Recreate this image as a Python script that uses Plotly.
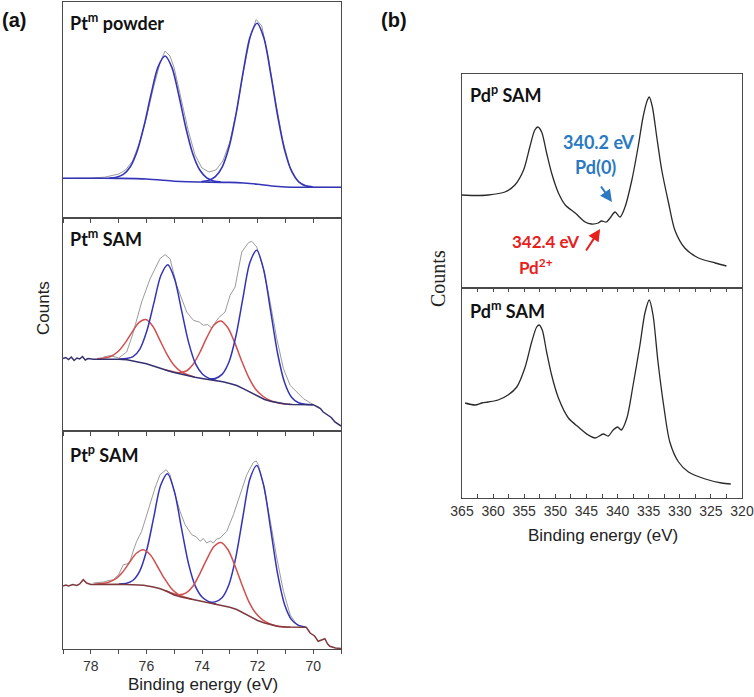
import plotly.graph_objects as go

# ---------------- Panel (a): Pt 4f ----------------
# (a1) Pt^m powder
A1_RAW_E = [79.0, 78.5, 78.0, 77.5, 77.0, 76.75, 76.5, 76.25, 76.0, 75.75, 75.5, 75.33, 75.15, 75.0, 74.75,
            74.5, 74.25, 74.0, 73.75, 73.5, 73.25, 73.0, 72.75, 72.5, 72.25, 72.05, 71.85, 71.6, 71.35,
            71.1, 70.85, 70.6, 70.35, 70.0, 69.5, 69.0]
A1_RAW = [39.7, 39.8, 40.0, 40.8, 44.0, 48.0, 57.0, 75.0, 100.0, 130.0, 156.0, 167.0, 162.0, 150.0, 120.0,
          88.0, 63.0, 50.0, 46.0, 48.0, 57.0, 76.0, 108.0, 148.0, 183.0, 198.5, 192.0, 158.0, 116.0,
          78.0, 52.0, 38.0, 32.5, 31.0, 30.7, 30.7]
A1_BG_E = [79.0, 78.0, 77.0, 76.0, 75.0, 74.5, 74.0, 73.0, 72.5, 72.0, 71.5, 71.0, 70.5, 70.0, 69.0]
A1_BG = [39.7, 39.7, 39.6, 39.0, 36.8, 36.2, 36.0, 35.6, 35.0, 33.8, 32.0, 31.0, 30.7, 30.7, 30.7]
A1_B1_E = [77.33, 77.08, 76.83, 76.58, 76.33, 76.08, 75.83, 75.58, 75.33, 75.08, 74.83, 74.58, 74.33,
           74.08, 73.83, 73.58, 73.33]
A1_B1 = [39.9, 40.8, 43.7, 51.3, 67.1, 92.7, 124.0, 151.1, 162.0, 150.4, 122.2, 90.0, 64.0, 48.0, 40.2,
         37.1, 36.1]
A1_B2_E = [74.02, 73.77, 73.52, 73.27, 73.02, 72.77, 72.52, 72.27, 72.02, 71.77, 71.52, 71.27, 71.02,
           70.77, 70.52, 70.27, 70.02]
A1_B2 = [36.4, 37.5, 41.3, 51.2, 71.7, 104.7, 145.8, 181.1, 194.8, 179.7, 142.8, 100.9, 67.1, 46.3, 36.2,
         32.3, 31.1]

# (a2) Pt^m SAM
A2_RAW_E = [77.55, 77.3, 77.0, 76.71, 76.5, 76.35, 76.17, 75.87, 75.51, 75.33, 75.15, 74.91, 74.73, 74.55,
            74.31, 74.1, 73.95, 73.8, 73.65, 73.41, 73.17, 72.99, 72.81, 72.57, 72.33, 72.21, 72.03, 71.79,
            71.55, 71.31, 71.07, 70.83, 70.59, 70.35, 69.99]
A2_RAW = [74.0, 75.5, 73.0, 79.0, 96.0, 112.0, 129.0, 152.0, 172.3, 176.3, 172.3, 145.7, 132.3, 119.0,
          110.7, 109.0, 105.7, 106.5, 103.0, 113.0, 119.0, 135.7, 144.0, 179.0, 188.3, 189.7, 184.0, 162.3,
          129.0, 92.3, 62.3, 45.7, 39.0, 32.3, 26.3]
A2_BG_E = [79.0, 78.9, 78.8, 78.7, 78.6, 78.5, 78.4, 78.3, 78.2, 78.1, 77.9, 77.5, 77.0, 76.7, 76.5, 76.25,
           76.0, 75.75, 75.5, 75.25, 75.0, 74.75, 74.5, 74.25, 74.0, 73.75, 73.5, 73.25, 73.0, 72.75, 72.5,
           72.25, 72.0, 71.75, 71.5, 71.25, 71.0, 70.75, 70.5, 70.0, 69.84, 69.74, 69.64, 69.45, 69.35,
           69.22, 69.0]
A2_BG = [72.5, 73.5, 71.5, 74.0, 70.5, 73.0, 72.0, 74.5, 71.0, 72.5, 71.8, 72.0, 71.8, 71.3, 70.2, 68.8,
         67.3, 65.0, 62.5, 60.5, 58.5, 56.7, 55.2, 53.7, 52.6, 51.5, 50.5, 49.3, 47.5, 45.5, 42.2,
         38.5, 34.5, 31.5, 29.5, 28.0, 27.0, 26.5, 26.3, 26.3, 24.0, 22.5, 19.0, 15.0, 13.5, 9.0, 5.0]
A2_R1_E = [77.77, 77.52, 77.27, 77.02, 76.77, 76.52, 76.27, 76.02, 75.77, 75.52, 75.27, 75.02, 74.77,
           74.52, 74.27]
A2_R1 = [72.3, 72.9, 74.8, 79.5, 87.9, 98.7, 108.4, 111.4, 104.7, 91.1, 77.2, 66.3, 59.7, 56.2, 54.0]
A2_B1_E = [76.98, 76.73, 76.48, 76.23, 75.98, 75.73, 75.48, 75.23, 74.98, 74.73, 74.48, 74.23, 73.98,
           73.73, 73.48]
A2_B1 = [72.0, 72.4, 74.3, 82.2, 100.4, 128.1, 155.5, 166.3, 151.6, 119.9, 88.4, 67.1, 56.7, 52.4, 50.6]
A2_R2_E = [75.32, 75.07, 74.82, 74.57, 74.32, 74.07, 73.82, 73.57, 73.32, 73.07, 72.82, 72.57, 72.32,
           72.07, 71.82, 71.57, 71.32, 71.07, 70.82]
A2_R2 = [61.3, 59.4, 58.3, 60.0, 66.8, 79.0, 93.8, 106.0, 110.1, 103.2, 88.1, 69.8, 53.6, 41.8, 35.0,
         30.7, 28.6, 27.3, 26.6]
A2_B2_E = [73.78, 73.53, 73.28, 73.03, 72.78, 72.53, 72.28, 72.03, 71.78, 71.53, 71.28, 71.03, 70.78,
           70.53, 70.28, 70.0]
A2_B2 = [52.0, 52.5, 56.6, 69.0, 95.0, 132.6, 168.2, 180.7, 161.0, 119.7, 77.5, 48.4, 33.7, 28.2, 26.7,
         26.3]

# (a3) Pt^p SAM
A3_RAW_E = [77.91, 77.7, 77.55, 77.35, 77.19, 77.0, 76.83, 76.7, 76.59, 76.45, 76.35, 76.17, 75.93, 75.69,
            75.51, 75.29, 75.15, 74.97, 74.79, 74.61, 74.37, 74.2, 74.07, 73.95, 73.83, 73.7, 73.59, 73.47,
            73.35, 73.11, 72.87, 72.63, 72.39, 72.15, 72.05, 71.97, 71.79, 71.55, 71.31, 71.07, 70.83,
            70.59, 70.29]
A3_RAW = [66.0, 66.5, 67.0, 68.5, 69.3, 74.3, 84.3, 85.0, 87.7, 100.0, 107.7, 117.7, 139.3, 161.0,
          174.3, 179.3, 174.3, 154.3, 137.7, 124.3, 114.3, 112.0, 107.7, 110.5, 106.0, 108.0, 106.0, 110.0,
          111.0, 117.7, 134.3, 154.3, 174.3, 186.7, 188.0, 184.3, 164.3, 129.3, 91.0, 57.7, 34.3, 24.3,
          21.7]
A3_BG_E = [79.05, 78.9, 78.8, 78.65, 78.5, 78.4, 78.27, 78.15, 78.0, 77.5, 77.0, 76.5, 76.1, 75.75, 75.5,
           75.25, 75.0, 74.75, 74.5, 74.25, 74.0, 73.75, 73.5, 73.25, 73.0, 72.75, 72.5, 72.25, 72.0,
           71.75, 71.5, 71.25, 71.0, 70.5, 70.25, 70.11, 69.95, 69.82, 69.7, 69.58, 69.48, 69.4, 69.2,
           69.0]
A3_BG = [62.5, 64.0, 63.0, 64.5, 63.5, 65.0, 69.3, 66.0, 64.5, 65.0, 64.8, 64.3, 63.7, 62.0, 60.3,
         57.5, 54.0, 52.0, 50.5, 49.0, 47.6, 46.2, 45.0, 43.5, 41.8, 39.5, 36.0, 32.0, 28.5,
         26.0, 24.0, 22.5, 22.0, 21.7, 21.7, 16.0, 13.0, 7.7, 9.0, 10.3, 5.0, 2.7, 1.0, 0.5]
A3_R1_E = [77.86, 77.61, 77.36, 77.11, 76.86, 76.61, 76.36, 76.11, 75.86, 75.61, 75.36, 75.11, 74.86,
           74.61, 74.36]
A3_R1 = [64.7, 65.4, 66.8, 70.0, 76.8, 86.4, 95.7, 99.3, 94.2, 83.0, 70.9, 60.8, 54.7, 51.7, 49.8]
A3_B1_E = [76.99, 76.74, 76.49, 76.24, 75.99, 75.74, 75.49, 75.24, 74.99, 74.74, 74.49, 74.24, 73.99,
           73.74, 73.49]
A3_B1 = [65.0, 65.6, 68.5, 77.9, 98.7, 131.1, 163.5, 175.3, 157.2, 121.1, 85.9, 62.9, 51.7, 47.1, 45.1]
A3_R2_E = [75.32, 75.07, 74.82, 74.57, 74.32, 74.07, 73.82, 73.57, 73.32, 73.07, 72.82, 72.57, 72.32,
           72.07, 71.82, 71.57, 71.32, 71.07, 70.82]
A3_R2 = [58.5, 55.7, 54.2, 56.2, 63.0, 75.7, 90.2, 102.5, 106.6, 99.5, 83.8, 64.8, 47.7, 36.0, 29.2,
         25.3, 23.1, 22.3, 21.9]
A3_B2_E = [73.78, 73.53, 73.28, 73.03, 72.78, 72.53, 72.28, 72.03, 71.78, 71.53, 71.28, 71.03, 70.78,
           70.53, 70.28]
A3_B2 = [46.8, 47.1, 51.3, 64.6, 92.2, 132.0, 169.7, 183.6, 163.5, 119.8, 75.1, 44.6, 29.4, 23.7, 22.1]

# ---------------- Panel (b): Pd 3d ----------------
B1_E = [365.0, 363.0, 360.8, 358.1, 356.5, 355.1, 354.1, 353.3, 352.8, 352.2, 351.4, 350.6, 349.5, 348.4,
        346.8, 345.2, 344.2, 343.1, 342.6, 341.8, 341.2, 340.4, 339.6, 338.8, 337.7, 336.7, 335.9, 335.2,
        334.9, 334.4, 333.7, 332.9, 331.8, 330.8, 329.2, 327.0, 324.3, 322.5]
B1 = [93.0, 92.5, 93.0, 96.0, 103.0, 118.0, 141.0, 158.0, 161.0, 156.0, 135.0, 115.0, 95.0, 83.0,
      75.0, 66.0, 64.0, 65.0, 67.0, 66.0, 70.0, 76.0, 71.0, 81.0, 108.0, 141.0, 171.0, 188.0,
      191.0, 181.0, 151.0, 118.0, 85.0, 58.0, 40.0, 30.0, 25.0, 22.0]
B2_E = [364.5, 362.9, 361.8, 360.8, 359.2, 357.6, 356.2, 354.9, 353.8, 353.0, 352.6, 352.1, 351.4, 350.6,
        349.5, 347.9, 346.3, 344.7, 343.6, 342.3, 341.5, 340.7, 340.0, 339.4, 338.5, 337.5, 336.4, 335.6,
        334.9, 334.3, 333.5, 332.6, 331.6, 330.2, 328.6, 325.9, 323.3, 321.8]
B2 = [95.0, 93.0, 95.0, 96.0, 98.0, 103.0, 111.0, 130.0, 156.0, 171.0, 173.0, 168.0, 146.0, 123.0,
      100.0, 80.0, 71.0, 63.0, 60.0, 64.0, 62.0, 68.0, 71.0, 68.0, 80.0, 113.0, 153.0, 185.0,
      198.0, 183.0, 136.0, 93.0, 56.0, 36.0, 26.0, 19.0, 15.0, 14.0]

PT_TICKS = [78, 76, 74, 72, 70]
PD_TICKS = [365, 360, 355, 350, 345, 340, 335, 330, 325, 320]

# ---------------- styles ----------------
GRAY = "#9b9b9b"
BLUE = "#3434b8"
RED = "#d24f4f"
NAVY = "#35306e"
BROWN = "#7e3a3e"
FRAME = "#4a4a4a"
W, H = 754, 697


def px(xp):
    return xp / W


def py(yp):
    return 1 - yp / H


fig = go.Figure()


def add(x, y, axis, color, width=1.6, shape="spline"):
    fig.add_trace(go.Scatter(x=x, y=y, mode="lines", xaxis="x" + axis, yaxis="y" + axis,
                             line=dict(color=color, width=width, shape=shape, smoothing=0.8),
                             showlegend=False, hoverinfo="skip"))


# a1
add(A1_RAW_E, A1_RAW, "", GRAY, 1.0, "linear")
add(A1_BG_E, A1_BG, "", BLUE, 1.6)
add(A1_B1_E, A1_B1, "", BLUE, 1.6)
add(A1_B2_E, A1_B2, "", BLUE, 1.6)
# a2
add(A2_RAW_E, A2_RAW, "2", GRAY, 1.0, "linear")
add(A2_R1_E, A2_R1, "2", RED, 1.5)
add(A2_R2_E, A2_R2, "2", RED, 1.5)
add(A2_B1_E, A2_B1, "2", BLUE, 1.5)
add(A2_B2_E, A2_B2, "2", BLUE, 1.5)
add(A2_BG_E, A2_BG, "2", NAVY, 1.5, "linear")
# a3
add(A3_RAW_E, A3_RAW, "3", GRAY, 1.0, "linear")
add(A3_B1_E, A3_B1, "3", BLUE, 1.5)
add(A3_B2_E, A3_B2, "3", BLUE, 1.5)
add(A3_R1_E, A3_R1, "3", RED, 1.5)
add(A3_R2_E, A3_R2, "3", RED, 1.5)
add(A3_BG_E, A3_BG, "3", BROWN, 1.5, "linear")
# b
add(B1_E, B1, "4", "#2a2a2a", 1.3, "spline")
add(B2_E, B2, "5", "#2a2a2a", 1.3, "spline")

xa_dom = [px(63), px(341)]
xb_dom = [px(462), px(742)]
a_rows = [(2, 218), (218, 431), (431, 649)]
b_rows = [(74, 288), (288, 498)]

tickfont = dict(family="Liberation Sans, Arial, sans-serif", size=14, color="#333333")


def xaxis(dom, rng, anchor, ticks_major, minor_dt, show_labels, tickdir, mirror):
    return dict(domain=dom, range=rng, anchor=anchor, showline=True, linecolor=FRAME, linewidth=1,
                mirror=mirror, showgrid=False, zeroline=False, ticks=tickdir, ticklen=4,
                tickcolor=FRAME, tickmode="array", tickvals=ticks_major, showticklabels=show_labels,
                tickfont=tickfont, automargin=False,
                minor=dict(dtick=minor_dt, ticks=tickdir, ticklen=4, tickcolor=FRAME, showgrid=False))


def yaxis(dom, rng, anchor):
    return dict(domain=dom, range=rng, anchor=anchor, showline=True, linecolor=FRAME, linewidth=1,
                mirror=True, showgrid=False, zeroline=False, showticklabels=False, ticks="",
                automargin=False)


lay = {}
names = ["", "2", "3"]
for i, (t, b) in enumerate(a_rows):
    n = names[i]
    lay["xaxis" + n] = xaxis(xa_dom, [79, 69], "y" + n, PT_TICKS, 1, i == 2, "outside", True)
    lay["yaxis" + n] = yaxis([py(b), py(t)], [0, b - t], "x" + n)
for i, (t, b) in enumerate(b_rows):
    n = str(4 + i)
    if i == 0:
        lay["xaxis" + n] = xaxis(xb_dom, [365, 320], "y" + n, PD_TICKS, 2.5, False, "", True)
    else:
        lay["xaxis" + n] = xaxis(xb_dom, [365, 320], "y" + n, PD_TICKS, 2.5, True, "inside", "ticks")
    lay["yaxis" + n] = yaxis([py(b), py(t)], [0, b - t], "x" + n)

fig.update_layout(**lay)

ann = []
bold = "Lato, Liberation Sans, sans-serif"


def label(text, xp, yp, size=18, color="#111111", family=bold, angle=0, xanchor="left"):
    ann.append(dict(text=text, x=px(xp), y=py(yp), xref="paper", yref="paper", showarrow=False,
                    xanchor=xanchor, yanchor="middle", textangle=angle, borderpad=0,
                    font=dict(family=family, size=size, color=color)))


label("<b>(a)</b>", 1, 20, size=20, family="Liberation Sans, Arial, sans-serif")
label("<b>(b)</b>", 380, 20, size=20, family="Liberation Sans, Arial, sans-serif")
label("<b>Pt<sup>m</sup> powder</b>", 69, 22)
label("<b>Pt<sup>m</sup> SAM</b>", 69, 238)
label("<b>Pt<sup>p</sup> SAM</b>", 69, 454)
label("<b>Pd<sup>p</sup> SAM</b>", 469, 94)
label("<b>Pd<sup>m</sup> SAM</b>", 469, 310)
label("Counts", 43, 308, size=17, color="#222222", family="Liberation Sans, Arial, sans-serif",
      angle=-90, xanchor="center")
label("Counts", 438, 279, size=20, color="#222222", family="Liberation Serif, Times New Roman, serif",
      angle=-90, xanchor="center")
label("Binding energy (eV)", 203, 684, size=17, color="#222222",
      family="Liberation Sans, Arial, sans-serif", xanchor="center")
label("Binding energy (eV)", 603, 535, size=17, color="#222222",
      family="Liberation Sans, Arial, sans-serif", xanchor="center")

PD_BLUE = "#2a79c2"
PD_RED = "#e8201c"
label("<b>340.2 eV</b>", 599, 142, size=18, color=PD_BLUE, xanchor="center")
label("<b>Pd(0)</b>", 595, 167, size=18, color=PD_BLUE, xanchor="center")
label("<b>342.4 eV</b>", 545, 242, size=17, color=PD_RED, xanchor="center")
label("<b>Pd<sup>2+</sup></b>", 536, 266, size=17, color=PD_RED, xanchor="center")

# arrows (head in data coordinates of the Pd^p SAM panel)
ann.append(dict(x=340.9, y=86, xref="x4", yref="y4", ax=-12, ay=-17, axref="pixel", ayref="pixel",
                showarrow=True, arrowhead=2, arrowsize=1.2, arrowwidth=2, arrowcolor=PD_BLUE, text=""))
ann.append(dict(x=342.8, y=59, xref="x4", yref="y4", ax=-15, ay=23, axref="pixel", ayref="pixel",
                showarrow=True, arrowhead=2, arrowsize=1.2, arrowwidth=2, arrowcolor=PD_RED, text=""))

fig.update_layout(annotations=ann, width=W, height=H, margin=dict(l=0, r=0, t=0, b=0),
                  paper_bgcolor="white", plot_bgcolor="white", showlegend=False)

fig.write_html("out.html")
